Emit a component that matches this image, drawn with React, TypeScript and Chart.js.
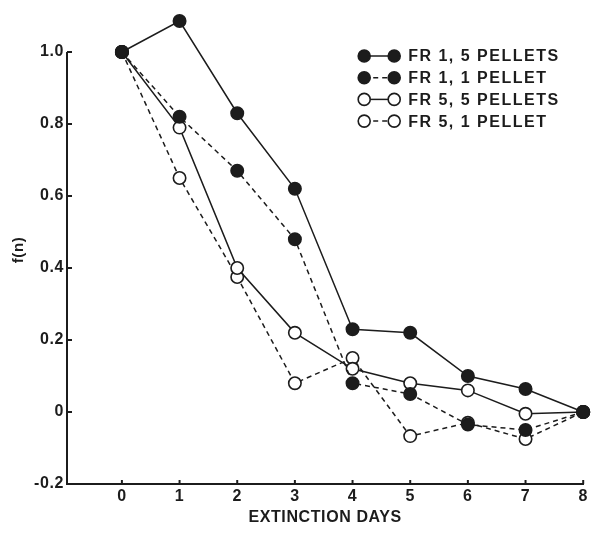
import React, { useEffect, useRef } from 'react';
import { Chart, registerables } from 'chart.js';

Chart.register(...registerables);

const days = [0, 1, 2, 3, 4, 5, 6, 7, 8];
const seriesLabels = ['FR 1, 5 PELLETS', 'FR 1, 1 PELLET', 'FR 5, 5 PELLETS', 'FR 5, 1 PELLET'];
const fr1FivePellets = [1.0, 1.086, 0.83, 0.62, 0.23, 0.22, 0.1, 0.064, 0.0];
const fr1OnePellet = [1.0, 0.82, 0.67, 0.48, 0.08, 0.05, -0.035, -0.05, 0.0];
const fr5FivePellets = [1.0, 0.79, 0.4, 0.22, 0.12, 0.08, 0.06, -0.005, 0.0];
const fr5OnePellet = [1.0, 0.65, 0.375, 0.08, 0.15, -0.067, -0.03, -0.075, 0.0];
const seriesFilled = [true, true, false, false];
const seriesDashed = [false, true, false, true];
const yTickValues = [-0.2, 0, 0.2, 0.4, 0.6, 0.8, 1.0];
const yAxisTop = 1.0;
const xTitle = 'EXTINCTION DAYS';
const yTitle = 'f(n)';

const INK = '#1c1c1c';
const FONT = '"Liberation Sans", Arial, sans-serif';

const spacingPlugin = {
  id: 'spacing',
  beforeLayout(chart: any) {
    chart.ctx.letterSpacing = '0.6px';
  },
  beforeDraw(chart: any) {
    chart.ctx.letterSpacing = '0.6px';
  },
};

const axisMarks = {
  id: 'axisMarks',
  afterDraw(chart: any) {
    const { ctx, chartArea } = chart;
    const xs = chart.scales.x;
    const ys = chart.scales.y;
    ctx.save();
    ctx.strokeStyle = INK;
    ctx.lineWidth = 2;
    ctx.beginPath();
    ctx.moveTo(chartArea.left, ys.getPixelForValue(yAxisTop));
    ctx.lineTo(chartArea.left, chartArea.bottom + 1);
    ctx.stroke();
    ys.ticks.forEach((t: any) => {
      const py = ys.getPixelForValue(t.value);
      ctx.beginPath();
      ctx.moveTo(chartArea.left, py);
      ctx.lineTo(chartArea.left + 5, py);
      ctx.stroke();
    });
    xs.ticks.forEach((t: any) => {
      const px = xs.getPixelForValue(t.value);
      ctx.beginPath();
      ctx.moveTo(px, chartArea.bottom);
      ctx.lineTo(px, chartArea.bottom - 4);
      ctx.stroke();
    });
    ctx.restore();
  },
};

const customLegend = {
  id: 'customLegend',
  afterDraw(chart: any) {
    const { ctx, chartArea } = chart;
    const ys = chart.scales.y;
    const x0 = chartArea.right - 219;
    const x1 = x0 + 30;
    const tx = x1 + 14;
    const y0 = ys.getPixelForValue(yAxisTop) + 4;
    const rowH = 21.7;
    ctx.save();
    chart.data.datasets.forEach((ds: any, i: number) => {
      const y = y0 + i * rowH;
      ctx.strokeStyle = INK;
      ctx.lineWidth = 1.5;
      ctx.setLineDash(ds.borderDash || []);
      ctx.beginPath();
      ctx.moveTo(x0, y);
      ctx.lineTo(x1, y);
      ctx.stroke();
      ctx.setLineDash([]);
      [x0, x1].forEach((cx) => {
        ctx.beginPath();
        ctx.arc(cx, y, 6, 0, Math.PI * 2);
        ctx.fillStyle = ds.pointBackgroundColor;
        ctx.fill();
        ctx.lineWidth = 1.6;
        ctx.stroke();
      });
      ctx.fillStyle = INK;
      ctx.font = `bold 16px ${FONT}`;
      ctx.letterSpacing = '1.5px';
      ctx.textAlign = 'left';
      ctx.textBaseline = 'middle';
      ctx.fillText(ds.label, tx, y + 1);
    });
    ctx.restore();
  },
};

export default function App() {
  const canvasRef = useRef<HTMLCanvasElement>(null);

  useEffect(() => {
    if (!canvasRef.current) return;
    const seriesValues = [fr1FivePellets, fr1OnePellet, fr5FivePellets, fr5OnePellet];
    const datasets = seriesValues.map((vals, i) => ({
      label: seriesLabels[i],
      data: days.map((d, j) => ({ x: d, y: vals[j] })),
      borderColor: INK,
      borderWidth: 1.5,
      borderDash: seriesDashed[i] ? [5, 4] : [],
      pointRadius: 6.2,
      pointBackgroundColor: seriesFilled[i] ? INK : '#ffffff',
      pointBorderColor: INK,
      pointBorderWidth: 1.6,
      tension: 0,
      clip: false as any,
    }));

    const chart = new Chart(canvasRef.current, {
      type: 'line',
      data: { datasets },
      options: {
        animation: false,
        responsive: false,
        layout: { padding: { left: 6, right: 7, top: 16, bottom: 0 } },
        plugins: {
          legend: { display: false },
          tooltip: { enabled: false },
        },
        scales: {
          x: {
            type: 'linear',
            min: -0.952,
            max: 8,
            afterBuildTicks: (scale: any) => {
              scale.ticks = days.map((v) => ({ value: v }));
            },
            afterFit: (scale: any) => {
              scale.height = 50;
            },
            ticks: {
              color: INK,
              font: { family: FONT, size: 16, weight: 'bold' },
              padding: 3,
              callback: (v: any) => String(v),
            },
            grid: { drawOnChartArea: false, drawTicks: false },
            border: { display: true, color: INK, width: 2 },
            title: {
              display: true,
              text: xTitle,
              color: INK,
              font: { family: FONT, size: 16, weight: 'bold' },
              padding: { top: 2, bottom: 7 },
            },
          },
          y: {
            type: 'linear',
            min: -0.2,
            max: 1.1,
            afterBuildTicks: (scale: any) => {
              scale.ticks = yTickValues.map((v) => ({ value: v }));
            },
            afterFit: (scale: any) => {
              scale.width = 61;
            },
            ticks: {
              color: INK,
              font: { family: FONT, size: 16, weight: 'bold' },
              padding: 3,
              callback: (v: any) => (Math.abs(v) < 1e-9 ? '0' : Number(v).toFixed(1)),
            },
            grid: { drawOnChartArea: false, drawTicks: false },
            border: { display: false },
            title: {
              display: true,
              text: yTitle,
              color: INK,
              font: { family: FONT, size: 15, weight: 'bold' },
              padding: { top: 4, bottom: 4 },
            },
          },
        },
      },
      plugins: [spacingPlugin, axisMarks, customLegend],
    });
    return () => chart.destroy();
  }, []);

  return (
    <div style={{ position: 'absolute', left: 0, top: 0, width: 591, height: 534, background: '#fff' }}>
      <canvas ref={canvasRef} width={591} height={534} style={{ display: 'block' }} />
    </div>
  );
}
